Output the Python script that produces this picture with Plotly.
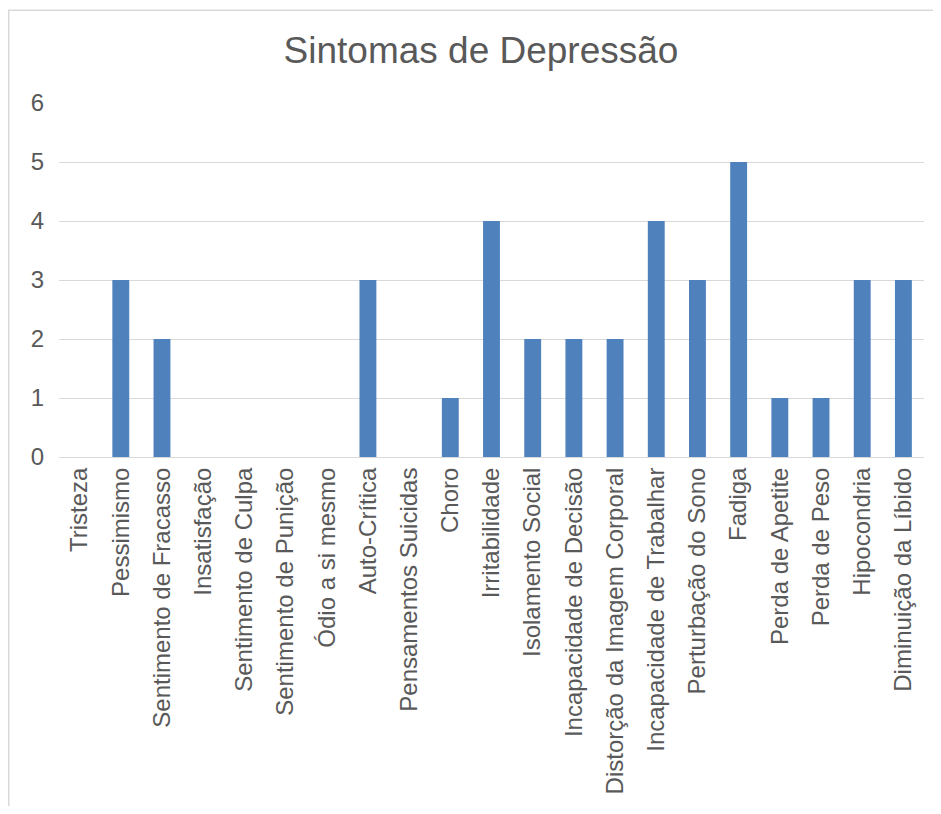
import plotly.graph_objects as go

categories = ["Tristeza", "Pessimismo", "Sentimento de Fracasso", "Insatisfação",
              "Sentimento de Culpa", "Sentimento de Punição", "Ódio a si mesmo",
              "Auto-Crítica", "Pensamentos Suicidas", "Choro", "Irritabilidade",
              "Isolamento Social", "Incapacidade de Decisão",
              "Distorção da Imagem Corporal", "Incapacidade de Trabalhar",
              "Perturbação do Sono", "Fadiga", "Perda de Apetite", "Perda de Peso",
              "Hipocondria", "Diminuição da Líbido"]
values = [0, 3, 2, 0, 0, 0, 0, 3, 0, 1, 4, 2, 2, 2, 4, 3, 5, 1, 1, 3, 3]
y_ticks = [0, 1, 2, 3, 4, 5, 6]

font_family = "Liberation Sans, Arial, sans-serif"
text_color = "#595959"

W, H = 933, 798
ML, MR, MT, MB = 51, 17, 95, 343
PW = W - ML - MR
PH = H - MT - MB

fig = go.Figure()
fig.add_trace(go.Bar(x=categories, y=values, marker=dict(color="#4F81BD", line=dict(width=0))))

fig.update_layout(
    width=W, height=H,
    margin=dict(l=ML, r=MR, t=MT, b=MB),
    paper_bgcolor="white", plot_bgcolor="white",
    bargap=0.59,
    showlegend=False,
    font=dict(family=font_family, color=text_color, size=24),
    title=dict(text="Sintomas de Depressão", x=(481 - 8 - ML) / PW, xref="paper", xanchor="center",
               y=1 - 42 / H, yanchor="middle",
               font=dict(size=37, color=text_color, family=font_family)),
    xaxis=dict(tickangle=-90, showgrid=False, showline=True, linecolor="#D9D9D9",
               linewidth=1, ticks="", tickfont=dict(size=24, color=text_color)),
    yaxis=dict(range=[0, 6], tickvals=y_ticks, showgrid=True, gridcolor="#D9D9D9",
               gridwidth=1, zeroline=False, showline=False, ticks="",
               ticklabelstandoff=14,
               tickfont=dict(size=24, color=text_color)),
    shapes=[dict(type="rect", xref="paper", yref="paper",
                 x0=(0.75 - ML) / PW, x1=(W + 20 - ML) / PW,
                 y0=-1.5, y1=(PH + MT - 0.75) / PH,
                 line=dict(color="#D9D9D9", width=1.5), fillcolor="rgba(0,0,0,0)",
                 layer="below")],
)

fig.write_html("out.html")
